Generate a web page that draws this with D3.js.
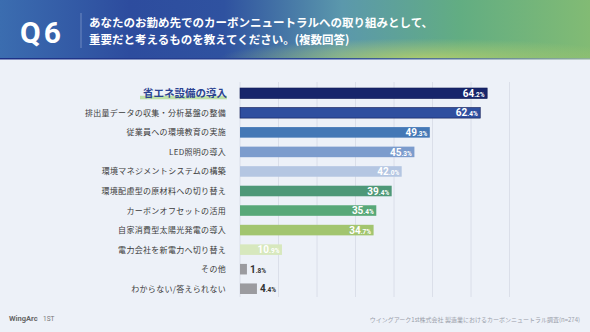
<!DOCTYPE html>
<html>
<head>
<meta charset="utf-8">
<script src="https://cdn.jsdelivr.net/npm/d3@7"></script>
<style>
  html, body { margin: 0; padding: 0; background: #edf1f8; }
  svg { display: block; font-family: "Noto Sans CJK JP", "Noto Sans", sans-serif; }
</style>
</head>
<body>
<div id="chart"></div>
<script>
const categories = [
    "省エネ設備の導入",
    "排出量データの収集・分析基盤の整備",
    "従業員への環境教育の実施",
    "LED照明の導入",
    "環境マネジメントシステムの構築",
    "環境配慮型の原材料への切り替え",
    "カーボンオフセットの活用",
    "自家消費型太陽光発電の導入",
    "電力会社を新電力へ切り替え",
    "その他",
    "わからない/答えられない"
];
const values = [64.2, 62.4, 49.3, 45.3, 42.0, 39.4, 35.4, 34.7, 10.9, 1.8, 4.4];
const barColors = ["#17256b", "#2f4f9f", "#4478b6", "#7c9ccd", "#b4c6e2", "#4e9878",
    "#58a878", "#a2c56f", "#d7e8bd", "#9b9b9f", "#9b9b9f"];
const gridTicks = [0, 10, 20, 30, 40, 50, 60, 70];

const width = 590;
const height = 332;

const svg = d3.select("#chart")
    .append("svg")
    .attr("width", width)
    .attr("height", height);

svg.append("rect").attr("width", width).attr("height", height).attr("fill", "#edf1f8");

// header band
const defs = svg.append("defs");
const hg = defs.append("linearGradient").attr("id", "hdr").attr("x1", 0).attr("x2", 1).attr("y1", 0).attr("y2", 0);
[["0%", "#3b6db0"], ["22%", "#2d4c9e"], ["38%", "#2f52a0"], ["58%", "#5b98ac"], ["78%", "#62ad82"], ["100%", "#82bb74"]]
    .forEach(s => hg.append("stop").attr("offset", s[0]).attr("stop-color", s[1]));
const rg = defs.append("radialGradient").attr("id", "glow").attr("cx", 0.72).attr("cy", 1).attr("r", 0.35);
rg.append("stop").attr("offset", "0%").attr("stop-color", "#b4cf6c").attr("stop-opacity", 0.9);
rg.append("stop").attr("offset", "100%").attr("stop-color", "#b4cf6c").attr("stop-opacity", 0);
const lg = defs.append("linearGradient").attr("id", "hdrLine").attr("x1", 0).attr("x2", 1);
lg.append("stop").attr("offset", "0%").attr("stop-color", "#1c2f86");
lg.append("stop").attr("offset", "55%").attr("stop-color", "#2b4896");
lg.append("stop").attr("offset", "100%").attr("stop-color", "#8fb09a");

svg.append("rect").attr("width", width).attr("height", 59).attr("fill", "url(#hdr)");
svg.append("rect").attr("width", width).attr("height", 59).attr("fill", "url(#glow)");
svg.append("rect").attr("y", 58).attr("width", width).attr("height", 1.5).attr("fill", "url(#hdrLine)");

svg.append("text").attr("x", 20).attr("y", 43)
    .attr("fill", "#fff").attr("font-size", 30).attr("font-weight", 700)
    .attr("letter-spacing", 3)
    .attr("font-family", "Roboto, sans-serif")
    .text("Q6");
svg.append("line").attr("x1", 81).attr("x2", 81).attr("y1", 13).attr("y2", 48)
    .attr("stroke", "#9fb3d8").attr("stroke-width", 0.8).attr("opacity", 0.7);
const titleLines = ["あなたのお勤め先でのカーボンニュートラルへの取り組みとして、", "重要だと考えるものを教えてください。(複数回答)"];
svg.selectAll(".title").data(titleLines).enter().append("text")
    .attr("class", "title")
    .attr("x", 89).attr("y", (d, i) => 27 + i * 17)
    .attr("fill", "#fff").attr("font-size", 11.5).attr("font-weight", 700)
    .text(d => d);

// chart
const x = d3.scaleLinear().domain([0, 70]).range([240, 509.5]);
const y = d3.scaleBand().domain(categories).range([83.5, 298.5]).paddingInner(0.46).paddingOuter(0.23);

svg.selectAll(".grid").data(gridTicks).enter().append("line")
    .attr("x1", d => x(d)).attr("x2", d => x(d))
    .attr("y1", 82).attr("y2", 297)
    .attr("stroke", "#d6dbe5").attr("stroke-width", 0.8);

svg.selectAll(".bar").data(values).enter().append("rect")
    .attr("x", x(0))
    .attr("y", (d, i) => y(categories[i]))
    .attr("width", d => x(d) - x(0))
    .attr("height", y.bandwidth())
    .attr("fill", (d, i) => barColors[i])
    .attr("stroke", (d, i) => i < 2 ? "#0f1a55" : "none")
    .attr("stroke-width", 0.6);

// category labels, the top one highlighted
categories.forEach((c, i) => {
    const cy = y(c) + y.bandwidth() / 2;
    if (i === 0) {
        svg.append("rect").attr("x", 140).attr("y", cy + 2.5).attr("width", 87).attr("height", 3.5)
            .attr("fill", "#bfe0a8");
        svg.append("text").attr("x", 227).attr("y", cy + 4)
            .attr("text-anchor", "end").attr("font-size", 10.5).attr("font-weight", 700)
            .attr("fill", "#2b4391").text(c);
    } else {
        svg.append("text").attr("x", 226).attr("y", cy + 3)
            .attr("text-anchor", "end").attr("font-size", 8).attr("fill", "#3b3b3b")
            .attr("letter-spacing", 0.3).text(c);
    }
});

// value labels: big integer part, small decimals
values.forEach((v, i) => {
    const cy = y(categories[i]) + y.bandwidth() / 2;
    const inside = v > 8;
    const parts = v.toFixed(1).split(".");
    const t = svg.append("text")
        .attr("x", inside ? x(v) - 2.5 : x(v) + 3)
        .attr("y", cy + 3.6)
        .attr("text-anchor", inside ? "end" : "start")
        .attr("font-family", "Roboto, sans-serif")
        .attr("font-weight", 700)
        .attr("fill", inside ? "#fff" : "#333");
    t.append("tspan").attr("font-size", 10).text(parts[0]);
    t.append("tspan").attr("font-size", 6.5).text("." + parts[1] + "%");
});

// footer
svg.append("text").attr("x", 9).attr("y", 321)
    .attr("font-size", 7.5).attr("font-weight", 700).attr("fill", "#666")
    .attr("font-family", "Roboto, sans-serif").text("WingArc");
svg.append("text").attr("x", 43).attr("y", 321)
    .attr("font-size", 6.5).attr("fill", "#777")
    .attr("font-family", "Roboto, sans-serif").text("1ST");
svg.append("text").attr("x", 580).attr("y", 322)
    .attr("text-anchor", "end").attr("font-size", 6).attr("fill", "#9aa0aa")
    .text("ウイングアーク1st株式会社 製造業におけるカーボンニュートラル調査(n=274)");
</script>
</body>
</html>
